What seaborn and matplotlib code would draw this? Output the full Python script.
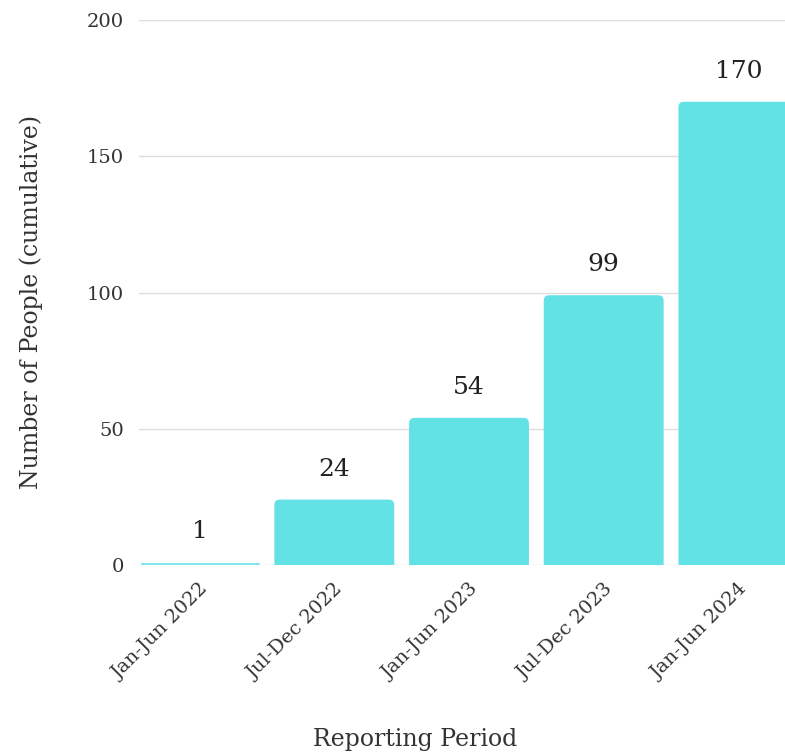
import numpy as np
import pandas as pd
import matplotlib.pyplot as plt
from matplotlib.patches import FancyBboxPatch
import seaborn as sns

sns.set_style('white')
plt.rcParams['font.family'] = ['DejaVu Serif']

# data
periods = ['Jan-Jun 2022', 'Jul-Dec 2022', 'Jan-Jun 2023', 'Jul-Dec 2023', 'Jan-Jun 2024']
people = [1, 24, 54, 99, 170]
yticks = [0, 50, 100, 150, 200]

df = pd.DataFrame({'period': periods, 'people': people})

fig = plt.figure(figsize=(7.85, 7.53), dpi=100)
# axes runs past the right edge, like the cropped original
ax = fig.add_axes([139 / 785, (753 - 565) / 753, 660 / 785, 545 / 753])

bar_color = '#63e2e6'
sns.barplot(data=df, x='period', y='people', color=bar_color, saturation=1,
            width=0.89, ax=ax, zorder=2)

ax.set_xlim(-0.45, 4.45)
ax.set_ylim(0, 200)

# swap the square bars for ones with rounded tops
# (the box starts below zero so the bottom corners get clipped away)
aspect = 134.75 / 2.725
for p, v in zip(list(ax.patches), people):
    x, w, h = p.get_x(), p.get_width(), p.get_height()
    ax.text(x + w / 2, v + 7, str(v), ha='center', va='bottom',
            fontsize=18, color='#222222')
    if h * 2.725 < 12:
        continue
    p.set_visible(False)
    ax.add_patch(FancyBboxPatch((x, -4), w, h + 4, boxstyle='round,pad=0,rounding_size=0.04',
                                mutation_aspect=aspect, facecolor=bar_color,
                                edgecolor='none', zorder=2))

ax.set_yticks(yticks)
ax.yaxis.grid(True, color='#dddddd', linewidth=1, zorder=0)
ax.set_axisbelow(True)
sns.despine(ax=ax, left=True, bottom=True)

ax.tick_params(axis='y', length=5, color='#cccccc', labelsize=14, pad=6, labelcolor='#333333')
ax.tick_params(axis='x', length=0, labelsize=14, pad=11, labelcolor='#333333')
plt.setp(ax.get_xticklabels(), rotation=45, ha='right', rotation_mode='anchor')
for lab in ax.get_xticklabels():
    lab.set_x(lab.get_position()[0] + 0.08)

ax.set_ylabel('Number of People (cumulative)', fontsize=17, color='#333333')
ax.yaxis.set_label_coords(-0.145, 0.4835)
ax.set_xlabel('Reporting Period', fontsize=17, color='#333333')
ax.xaxis.set_label_coords(0.418, -0.2995)

fig.savefig('out.png', dpi=100)
